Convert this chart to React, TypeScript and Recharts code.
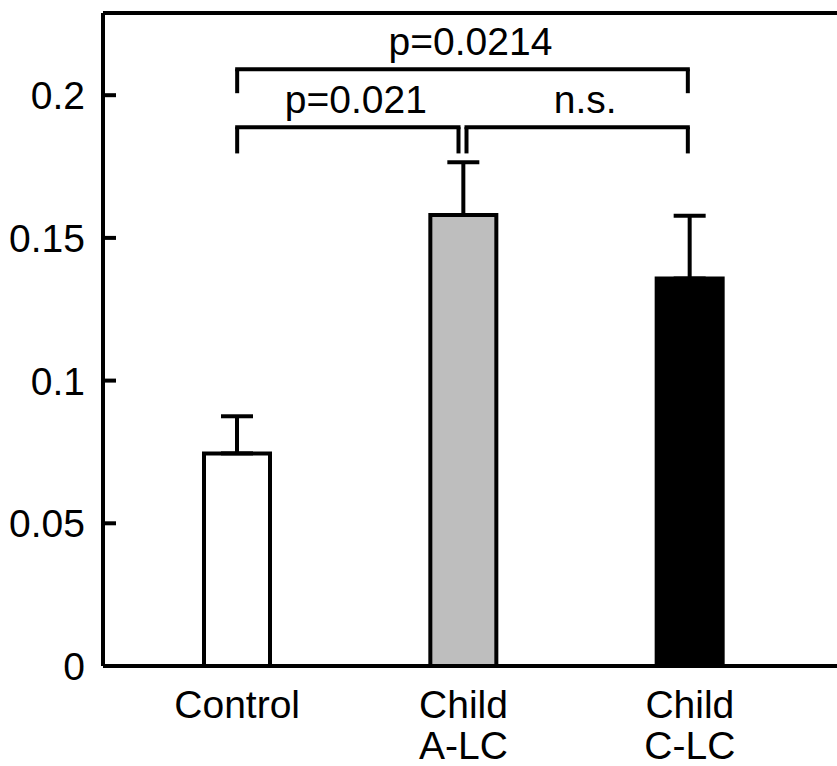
import React from "react";
import { Bar, BarChart, Cell, ErrorBar, ReferenceLine, XAxis, YAxis } from "recharts";

const groups = ["Control", "Child A-LC", "Child C-LC"];
const groupLabels = [["Control"], ["Child", "A-LC"], ["Child", "C-LC"]];
const means = [0.0745, 0.158, 0.1358];
const errors = [0.013, 0.0185, 0.022];
const fills = ["#ffffff", "#bebebe", "#000000"];
const yTicks = [0, 0.05, 0.1, 0.15, 0.2];
const yMax = 0.2288;

// significance brackets: [from, to, top y, foot y, label, nudge from, nudge to]
const brackets: [string, string, number, number, string, number, number][] = [
  ["Control", "Child C-LC", 0.2091, 0.2007, "p=0.0214", 0, -2],
  ["Control", "Child A-LC", 0.1888, 0.1796, "p=0.021", 0, -5],
  ["Child A-LC", "Child C-LC", 0.1888, 0.1796, "n.s.", 3, -2],
];

const data = groups.map((g, i) => ({
  group: g,
  mean: means[i],
  err: [0, errors[i]],
}));

const FONT = "'Liberation Sans', Arial, sans-serif";
const FS = 39;

function YTick(props: any) {
  const { x, y, payload } = props;
  return (
    <g>
      <line x1={x} x2={x + 13} y1={y} y2={y} stroke="#000" strokeWidth={4} />
      <text x={x - 18} y={y + 14} textAnchor="end" fontFamily={FONT} fontSize={FS} fill="#000">
        {String(payload.value)}
      </text>
    </g>
  );
}

function XTick(props: any) {
  const { x, payload, index } = props;
  const lines = groupLabels[index] ?? [payload.value];
  return (
    <text textAnchor="middle" fontFamily={FONT} fontSize={FS} fill="#000">
      {lines.map((l, i) => (
        <tspan key={i} x={x} y={718 + i * 41}>
          {l}
        </tspan>
      ))}
    </text>
  );
}

// horizontal part of a bracket, ends nudged a few pixels
function bracketTop(dxA: number, dxB: number, text: string) {
  return (p: any) => {
    const xa = Math.min(p.x1, p.x2) + dxA;
    const xb = Math.max(p.x1, p.x2) + dxB;
    return (
      <g>
        <line x1={xa - 2} x2={xb + 2} y1={p.y1} y2={p.y2} stroke="#000" strokeWidth={4} />
        <text
          x={(xa + xb) / 2 + 8}
          y={p.y1 - 14}
          textAnchor="middle"
          fontFamily={FONT}
          fontSize={FS}
          fill="#000"
        >
          {text}
        </text>
      </g>
    );
  };
}

function bracketFoot(dx: number) {
  return (p: any) => (
    <line x1={p.x1 + dx} x2={p.x2 + dx} y1={p.y1} y2={p.y2} stroke="#000" strokeWidth={4} />
  );
}

export default function App() {
  return (
    <div style={{ position: "absolute", left: 0, top: 0, background: "#fff" }}>
      <BarChart
        width={837}
        height={766}
        data={data}
        margin={{ top: 13, right: 0, bottom: 0, left: 0 }}
      >
        <XAxis
          dataKey="group"
          padding={{ left: 21, right: 34 }}
          axisLine={{ stroke: "#000", strokeWidth: 4 }}
          tickLine={false}
          tick={<XTick />}
          interval={0}
          height={100}
        />
        <YAxis
          domain={[0, yMax]}
          ticks={yTicks}
          width={103}
          tickLine={false}
          tickSize={0}
          tickMargin={0}
          axisLine={{ stroke: "#000", strokeWidth: 4 }}
          tick={<YTick />}
          allowDataOverflow
        />
        <ReferenceLine y={yMax} stroke="#000" strokeWidth={4} ifOverflow="visible" />
        <Bar dataKey="mean" barSize={66} stroke="#000" strokeWidth={4} isAnimationActive={false}>
          {data.map((d, i) => (
            <Cell key={d.group} fill={fills[i]} />
          ))}
          <ErrorBar dataKey="err" direction="y" width={16} stroke="#000" strokeWidth={4} isAnimationActive={false} />
        </Bar>
        {brackets.map(([a, b, top, foot, label, dxA, dxB], i) => (
          <React.Fragment key={i}>
            <ReferenceLine
              segment={[{ x: a, y: top }, { x: b, y: top }]}
              shape={bracketTop(dxA, dxB, label)}
            />
            <ReferenceLine segment={[{ x: a, y: top }, { x: a, y: foot }]} shape={bracketFoot(dxA)} />
            <ReferenceLine segment={[{ x: b, y: top }, { x: b, y: foot }]} shape={bracketFoot(dxB)} />
          </React.Fragment>
        ))}
      </BarChart>
    </div>
  );
}
